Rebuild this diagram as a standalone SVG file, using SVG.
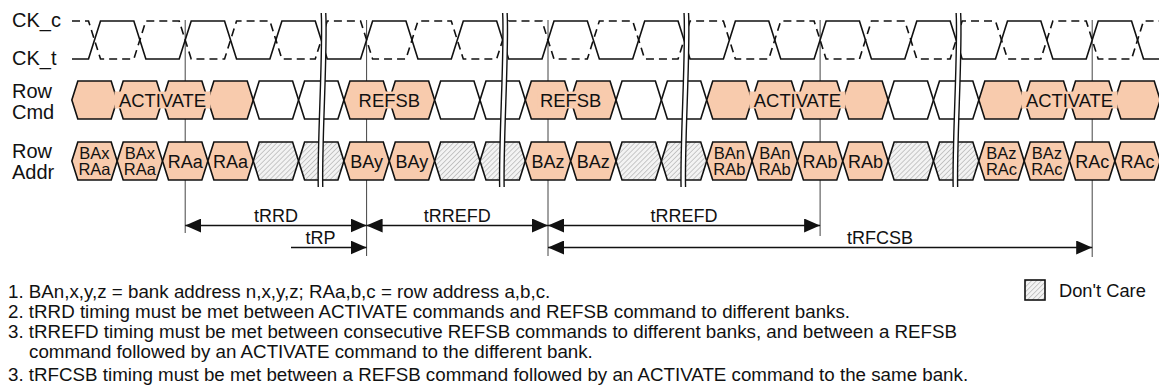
<svg xmlns="http://www.w3.org/2000/svg" xmlns:xlink="http://www.w3.org/1999/xlink" width="1159" height="391" viewBox="0 0 1159 391">
<style>
text{font-family:"Liberation Sans",Arial,Helvetica,sans-serif;fill:#111}
.lbl{font-size:20px}
.cmd{font-size:18.4px;text-anchor:middle}
.ad{font-size:18px;text-anchor:middle}
.ad2{font-size:16.5px;text-anchor:middle}
.tm{font-size:18px;text-anchor:middle}
.note{font-size:18.75px}
.pk{fill:#F8CBAD;stroke:#111;stroke-width:1.6}
.wh{fill:#fff;stroke:#111;stroke-width:1.6}
.dc{fill:url(#hatch);stroke:#111;stroke-width:1.6}
.tbg{fill:#F8CBAD;stroke:none}
.clk{fill:none;stroke:#111;stroke-width:1.6}
.dash{stroke-dasharray:8,5}
.vl{stroke:#444;stroke-width:1}
.arr{stroke:#111;stroke-width:1.6;fill:none}
.brk{fill:#fff;stroke:none}
.brkl{fill:none;stroke:#111;stroke-width:1.4}
</style>
<defs>
<pattern id="hatch" width="3.5" height="3.5" patternUnits="userSpaceOnUse" patternTransform="rotate(45)">
<rect width="3.5" height="3.5" fill="#f3f3f3"/>
<line x1="0" y1="0" x2="0" y2="3.5" stroke="#999" stroke-width="1"/>
</pattern>
<path id="hx" d="M0,0 L6,-19 L39.35,-19 L45.35,0 L39.35,19 L6,19 Z"/>
<marker id="ah" viewBox="0 0 16 14" refX="16" refY="7" markerWidth="16" markerHeight="14" markerUnits="userSpaceOnUse" orient="auto-start-reverse">
<path d="M0,0 L16,7 L0,14 Z" fill="#111"/>
</marker>
<g id="brk">
<path class="brk" d="M0,13 C2,50 -4,140 -3,187 L1.5,187 C0.5,140 6.5,50 4.5,13 Z"/>
<path class="brkl" d="M0,13 C2,50 -4,140 -3,187"/>
<path class="brkl" d="M4.5,13 C6.5,50 0.5,140 1.5,187"/>
</g>
</defs>
<rect width="1159" height="391" fill="#fff"/>

<g id="connectors">
<line class="vl" x1="185.2" y1="20" x2="185.2" y2="233"/>
<line class="vl" x1="366.6" y1="20" x2="366.6" y2="256"/>
<line class="vl" x1="548" y1="20" x2="548" y2="256"/>
<line class="vl" x1="820.1" y1="20" x2="820.1" y2="236"/>
<line class="vl" x1="1092.2" y1="20" x2="1092.2" y2="257"/>
<line class="arr" x1="185.2" y1="225.5" x2="366.6" y2="225.5" marker-start="url(#ah)" marker-end="url(#ah)"/>
<line class="arr" x1="366.6" y1="225.5" x2="548" y2="225.5" marker-start="url(#ah)" marker-end="url(#ah)"/>
<line class="arr" x1="548" y1="225.5" x2="820.1" y2="225.5" marker-start="url(#ah)" marker-end="url(#ah)"/>
<line class="arr" x1="291" y1="247.5" x2="366.6" y2="247.5" marker-end="url(#ah)"/>
<line class="arr" x1="548" y1="247.5" x2="1092.2" y2="247.5" marker-start="url(#ah)" marker-end="url(#ah)"/>
<text class="tm" x="275.9" y="222">tRRD</text>
<text class="tm" x="457.3" y="222">tRREFD</text>
<text class="tm" x="684" y="222">tRREFD</text>
<text class="tm" x="320.5" y="243.5">tRP</text>
<text class="tm" x="880" y="243.5">tRFCSB</text>
</g>

<g id="signal-labels">
<text class="lbl" x="12" y="27">CK_c</text>
<text class="lbl" x="12" y="64.5">CK_t</text>
<text class="lbl" x="12" y="98">Row</text>
<text class="lbl" x="12" y="118.5">Cmd</text>
<text class="lbl" x="12" y="158">Row</text>
<text class="lbl" x="12" y="179">Addr</text>
</g>

<g id="clock">
<path id="ck_c" class="clk dash" d="M72,21 L88.5,21 L100.5,59 L133.85,59 L145.85,21 L179.2,21 L191.2,59 L224.55,59 L236.55,21 L269.9,21 L281.9,59 L315.25,59 L327.25,21 L360.6,21 L372.6,59 L405.95,59 L417.95,21 L451.3,21 L463.3,59 L496.65,59 L508.65,21 L542,21 L554,59 L587.35,59 L599.35,21 L632.7,21 L644.7,59 L678.05,59 L690.05,21 L723.4,21 L735.4,59 L768.75,59 L780.75,21 L814.1,21 L826.1,59 L859.45,59 L871.45,21 L904.8,21 L916.8,59 L950.15,59 L962.15,21 L995.5,21 L1007.5,59 L1040.85,59 L1052.85,21 L1086.2,21 L1098.2,59 L1131.55,59 L1143.55,21 L1159,21"/>
<path id="ck_t" class="clk" d="M72,59 L88.5,59 L100.5,21 L133.85,21 L145.85,59 L179.2,59 L191.2,21 L224.55,21 L236.55,59 L269.9,59 L281.9,21 L315.25,21 L327.25,59 L360.6,59 L372.6,21 L405.95,21 L417.95,59 L451.3,59 L463.3,21 L496.65,21 L508.65,59 L542,59 L554,21 L587.35,21 L599.35,59 L632.7,59 L644.7,21 L678.05,21 L690.05,59 L723.4,59 L735.4,21 L768.75,21 L780.75,59 L814.1,59 L826.1,21 L859.45,21 L871.45,59 L904.8,59 L916.8,21 L950.15,21 L962.15,59 L995.5,59 L1007.5,21 L1040.85,21 L1052.85,59 L1086.2,59 L1098.2,21 L1131.55,21 L1143.55,59 L1159,59"/>
</g>

<g id="cmd-activate-1">
<use href="#hx" class="pk" x="71.83" y="100"/>
<use href="#hx" class="pk" x="117.18" y="100"/>
<use href="#hx" class="pk" x="162.53" y="100"/>
<use href="#hx" class="pk" x="207.88" y="100"/>
<rect class="tbg" x="114.5" y="91.5" width="96" height="17"/>
<text class="cmd" x="162.53" y="106.6">ACTIVATE</text>
</g>
<g id="cmd-nop-1">
<use href="#hx" class="wh" x="253.23" y="100"/>
<use href="#hx" class="wh" x="298.58" y="100"/>
</g>
<g id="cmd-refsb-1">
<use href="#hx" class="pk" x="343.93" y="100"/>
<use href="#hx" class="pk" x="389.28" y="100"/>
<rect class="tbg" x="356" y="91.5" width="67" height="17"/>
<text class="cmd" x="389.28" y="106.6">REFSB</text>
</g>
<g id="cmd-nop-2">
<use href="#hx" class="wh" x="434.63" y="100"/>
<use href="#hx" class="wh" x="479.98" y="100"/>
</g>
<g id="cmd-refsb-2">
<use href="#hx" class="pk" x="525.33" y="100"/>
<use href="#hx" class="pk" x="570.68" y="100"/>
<rect class="tbg" x="537.4" y="91.5" width="67" height="17"/>
<text class="cmd" x="570.68" y="106.6">REFSB</text>
</g>
<g id="cmd-nop-3">
<use href="#hx" class="wh" x="616.03" y="100"/>
<use href="#hx" class="wh" x="661.38" y="100"/>
</g>
<g id="cmd-activate-2">
<use href="#hx" class="pk" x="706.73" y="100"/>
<use href="#hx" class="pk" x="752.08" y="100"/>
<use href="#hx" class="pk" x="797.43" y="100"/>
<use href="#hx" class="pk" x="842.78" y="100"/>
<rect class="tbg" x="749.4" y="91.5" width="96" height="17"/>
<text class="cmd" x="797.43" y="106.6">ACTIVATE</text>
</g>
<g id="cmd-nop-4">
<use href="#hx" class="wh" x="888.13" y="100"/>
<use href="#hx" class="wh" x="933.48" y="100"/>
</g>
<g id="cmd-activate-3">
<use href="#hx" class="pk" x="978.83" y="100"/>
<use href="#hx" class="pk" x="1024.18" y="100"/>
<use href="#hx" class="pk" x="1069.53" y="100"/>
<use href="#hx" class="pk" x="1114.88" y="100"/>
<rect class="tbg" x="1021.5" y="91.5" width="96" height="17"/>
<text class="cmd" x="1069.53" y="106.6">ACTIVATE</text>
</g>

<g id="addr-0"><use href="#hx" class="pk" x="71.83" y="161"/><text class="ad2"><tspan x="94.5" y="158.6">BAx</tspan><tspan x="94.5" y="175.4">RAa</tspan></text></g>
<g id="addr-1"><use href="#hx" class="pk" x="117.18" y="161"/><text class="ad2"><tspan x="139.85" y="158.6">BAx</tspan><tspan x="139.85" y="175.4">RAa</tspan></text></g>
<g id="addr-2"><use href="#hx" class="pk" x="162.53" y="161"/><text class="ad" x="185.2" y="167.5">RAa</text></g>
<g id="addr-3"><use href="#hx" class="pk" x="207.88" y="161"/><text class="ad" x="230.55" y="167.5">RAa</text></g>
<g id="addr-4"><use href="#hx" class="dc" x="253.23" y="161"/></g>
<g id="addr-5"><use href="#hx" class="dc" x="298.58" y="161"/></g>
<g id="addr-6"><use href="#hx" class="pk" x="343.93" y="161"/><text class="ad" x="366.6" y="167.5">BAy</text></g>
<g id="addr-7"><use href="#hx" class="pk" x="389.28" y="161"/><text class="ad" x="411.95" y="167.5">BAy</text></g>
<g id="addr-8"><use href="#hx" class="dc" x="434.63" y="161"/></g>
<g id="addr-9"><use href="#hx" class="dc" x="479.98" y="161"/></g>
<g id="addr-10"><use href="#hx" class="pk" x="525.33" y="161"/><text class="ad" x="548" y="167.5">BAz</text></g>
<g id="addr-11"><use href="#hx" class="pk" x="570.68" y="161"/><text class="ad" x="593.35" y="167.5">BAz</text></g>
<g id="addr-12"><use href="#hx" class="dc" x="616.03" y="161"/></g>
<g id="addr-13"><use href="#hx" class="dc" x="661.38" y="161"/></g>
<g id="addr-14"><use href="#hx" class="pk" x="706.73" y="161"/><text class="ad2"><tspan x="729.4" y="158.6">BAn</tspan><tspan x="729.4" y="175.4">RAb</tspan></text></g>
<g id="addr-15"><use href="#hx" class="pk" x="752.08" y="161"/><text class="ad2"><tspan x="774.75" y="158.6">BAn</tspan><tspan x="774.75" y="175.4">RAb</tspan></text></g>
<g id="addr-16"><use href="#hx" class="pk" x="797.43" y="161"/><text class="ad" x="820.1" y="167.5">RAb</text></g>
<g id="addr-17"><use href="#hx" class="pk" x="842.78" y="161"/><text class="ad" x="865.45" y="167.5">RAb</text></g>
<g id="addr-18"><use href="#hx" class="dc" x="888.13" y="161"/></g>
<g id="addr-19"><use href="#hx" class="dc" x="933.48" y="161"/></g>
<g id="addr-20"><use href="#hx" class="pk" x="978.83" y="161"/><text class="ad2"><tspan x="1001.5" y="158.6">BAz</tspan><tspan x="1001.5" y="175.4">RAc</tspan></text></g>
<g id="addr-21"><use href="#hx" class="pk" x="1024.18" y="161"/><text class="ad2"><tspan x="1046.85" y="158.6">BAz</tspan><tspan x="1046.85" y="175.4">RAc</tspan></text></g>
<g id="addr-22"><use href="#hx" class="pk" x="1069.53" y="161"/><text class="ad" x="1092.2" y="167.5">RAc</text></g>
<g id="addr-23"><use href="#hx" class="pk" x="1114.88" y="161"/><text class="ad" x="1137.55" y="167.5">RAc</text></g>

<g id="time-breaks">
<use href="#brk" x="321.25" y="0"/>
<use href="#brk" x="502.65" y="0"/>
<use href="#brk" x="684.05" y="0"/>
<use href="#brk" x="956.15" y="0"/>
</g>

<g id="legend">
<rect x="1025" y="280" width="20" height="20" fill="url(#hatch)" stroke="#111" stroke-width="1.6"/>
<text x="1059" y="297" style="font-size:18.3px">Don't Care</text>
</g>

<g id="notes">
<text class="note" x="8" y="298">1. BAn,x,y,z = bank address n,x,y,z; RAa,b,c = row address a,b,c.</text>
<text class="note" x="8" y="318">2. tRRD timing must be met between ACTIVATE commands and REFSB command to different banks.</text>
<text class="note" x="8" y="338">3. tRREFD timing must be met between consecutive REFSB commands to different banks, and between a REFSB</text>
<text class="note" x="29" y="358">command followed by an ACTIVATE command to the different bank.</text>
<text class="note" x="8" y="381">3. tRFCSB timing must be met between a REFSB command followed by an ACTIVATE command to the same bank.</text>
</g>
</svg>
